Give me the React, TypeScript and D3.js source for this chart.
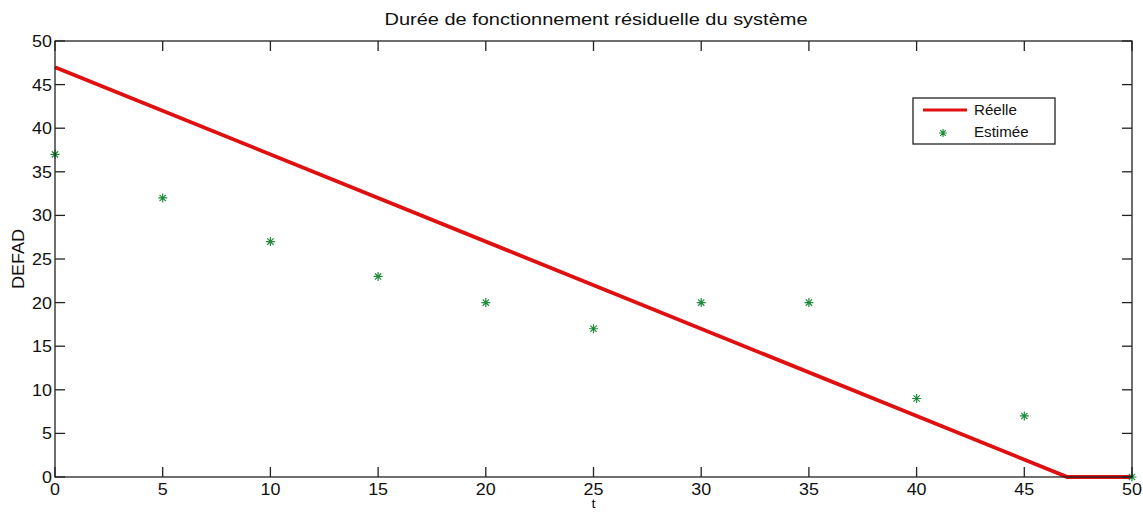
import React, { useRef, useEffect } from 'react';
import * as d3 from 'd3';

const realT = [0, 47, 50];
const realV = [47, 0, 0];

const estT = [0, 5, 10, 15, 20, 25, 30, 35, 40, 45, 50];
const estV = [37, 32, 27, 23, 20, 17, 20, 20, 9, 7, 0];

const xTicks = [0, 5, 10, 15, 20, 25, 30, 35, 40, 45, 50];
const yTicks = [0, 5, 10, 15, 20, 25, 30, 35, 40, 45, 50];

const title = 'Durée de fonctionnement résiduelle du système';
const legendLabels = ['Réelle', 'Estimée'];

const RED = '#e01010';
const GREEN = '#1e8c3a';

export default function App() {
  const ref = useRef<SVGSVGElement | null>(null);

  useEffect(() => {
    if (!ref.current) return;
    const svg = d3.select(ref.current);
    svg.selectAll('*').remove();

    const left = 55, right = 1132, top = 41, bottom = 477;
    const x = d3.scaleLinear().domain([0, 50]).range([left, right]);
    const y = d3.scaleLinear().domain([0, 50]).range([bottom, top]);
    const font = 'Liberation Sans, Arial, sans-serif';
    const sx = 1.12; // text in the picture is slightly wider than Arial

    svg.append('rect').attr('width', 1143).attr('height', 512).attr('fill', '#fff');

    // real line
    const line = d3.line<number>().x((_, i) => x(realT[i])).y(d => y(d));
    svg.append('path')
      .datum(realV)
      .attr('fill', 'none')
      .attr('stroke', RED)
      .attr('stroke-width', 3.8)
      .attr('d', line);

    // estimated points as asterisks
    const star = (g: any, cx: number, cy: number, r: number) => {
      const k = r * 0.7;
      g.append('path')
        .attr('d', `M${cx - r},${cy}H${cx + r}M${cx},${cy - r}V${cy + r}M${cx - k},${cy - k}L${cx + k},${cy + k}M${cx - k},${cy + k}L${cx + k},${cy - k}`)
        .attr('stroke', GREEN)
        .attr('stroke-width', 1.2)
        .attr('fill', 'none');
    };
    const pts = svg.append('g');
    estV.forEach((v, i) => star(pts, x(estT[i]), y(v), 4.5));

    // box
    svg.append('rect')
      .attr('x', left).attr('y', top)
      .attr('width', right - left).attr('height', bottom - top)
      .attr('fill', 'none').attr('stroke', '#222').attr('stroke-width', 1.3);

    const tl = 10;
    const ticks = svg.append('g').attr('stroke', '#222').attr('stroke-width', 1.3);
    xTicks.forEach(t => {
      ticks.append('line').attr('x1', x(t)).attr('x2', x(t)).attr('y1', bottom).attr('y2', bottom - tl);
      ticks.append('line').attr('x1', x(t)).attr('x2', x(t)).attr('y1', top).attr('y2', top + tl);
    });
    yTicks.forEach(t => {
      ticks.append('line').attr('x1', left).attr('x2', left + tl).attr('y1', y(t)).attr('y2', y(t));
      ticks.append('line').attr('x1', right).attr('x2', right - tl).attr('y1', y(t)).attr('y2', y(t));
    });

    svg.append('g').selectAll('text').data(xTicks).join('text')
      .attr('transform', d => `translate(${x(d)},${bottom + 18}) scale(${sx},1)`)
      .attr('text-anchor', 'middle')
      .attr('font-family', font).attr('font-size', 16).attr('fill', '#111')
      .text(d => d);

    svg.append('g').selectAll('text').data(yTicks).join('text')
      .attr('transform', d => `translate(${left - 3},${y(d) + 6}) scale(${sx},1)`)
      .attr('text-anchor', 'end')
      .attr('font-family', font).attr('font-size', 16).attr('fill', '#111')
      .text(d => d);

    svg.append('text')
      .attr('x', 596).attr('y', 25)
      .attr('text-anchor', 'middle')
      .attr('font-family', font).attr('font-size', 17).attr('fill', '#111')
      .attr('textLength', 423).attr('lengthAdjust', 'spacingAndGlyphs')
      .text(title);

    svg.append('text')
      .attr('transform', `translate(${(left + right) / 2},508) scale(${sx},1)`)
      .attr('text-anchor', 'middle')
      .attr('font-family', font).attr('font-size', 13).attr('fill', '#111')
      .text('t');

    svg.append('text')
      .attr('transform', `translate(24,259) rotate(-90)`)
      .attr('text-anchor', 'middle')
      .attr('font-family', font).attr('font-size', 17).attr('fill', '#111')
      .attr('textLength', 60).attr('lengthAdjust', 'spacingAndGlyphs')
      .text('DEFAD');

    // legend
    const lg = svg.append('g');
    lg.append('rect').attr('x', 913).attr('y', 98).attr('width', 142).attr('height', 46)
      .attr('fill', '#fff').attr('stroke', '#222').attr('stroke-width', 1.3);
    lg.append('line').attr('x1', 923).attr('x2', 967).attr('y1', 110).attr('y2', 110)
      .attr('stroke', RED).attr('stroke-width', 3);
    star(lg, 943, 133, 4);
    lg.selectAll('text').data(legendLabels).join('text')
      .attr('transform', (_, i) => `translate(974,${115 + i * 22}) scale(1.08,1)`)
      .attr('font-family', font).attr('font-size', 14).attr('fill', '#111')
      .text(d => d);
  }, []);

  return <svg ref={ref} width={1143} height={512} style={{ position: 'absolute', left: 0, top: 0 }} />;
}
